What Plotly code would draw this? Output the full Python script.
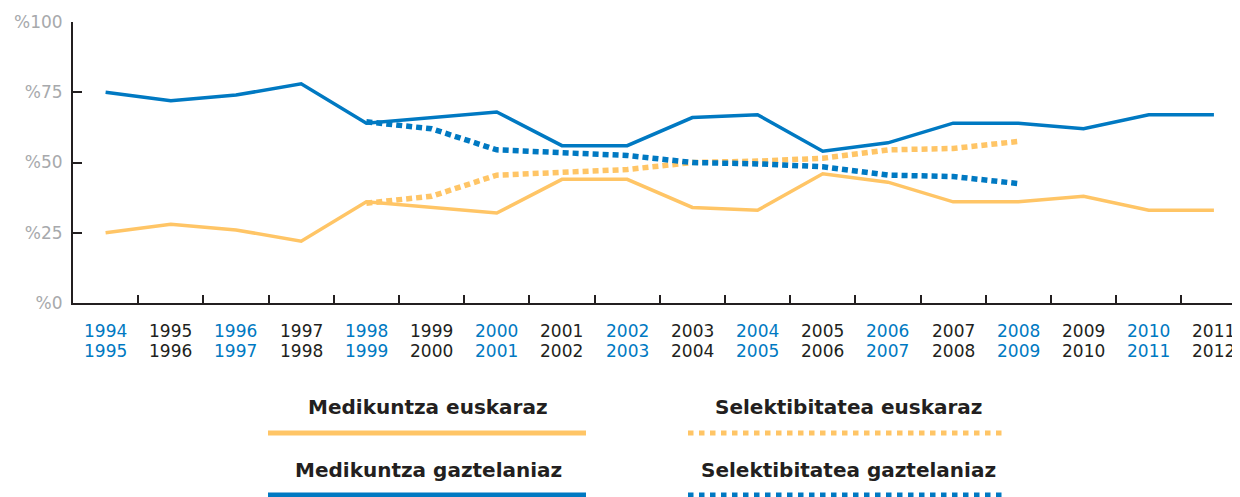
import plotly.graph_objects as go

# ---------------- data ----------------
years_top = ["1994", "1995", "1996", "1997", "1998", "1999", "2000", "2001", "2002",
             "2003", "2004", "2005", "2006", "2007", "2008", "2009", "2010", "2011"]
years_bottom = ["1995", "1996", "1997", "1998", "1999", "2000", "2001", "2002", "2003",
                "2004", "2005", "2006", "2007", "2008", "2009", "2010", "2011", "2012"]

medikuntza_euskaraz = [25, 28, 26, 22, 36, 34, 32, 44, 44, 34, 33, 46, 43, 36, 36, 38, 33, 33]
medikuntza_gaztelaniaz = [75, 72, 74, 78, 64, 66, 68, 56, 56, 66, 67, 54, 57, 64, 64, 62, 67, 67]

# Selektibitatea covers 1998-1999 .. 2008-2009 (category index 4..14)
selek_start = 4
selektibitatea_euskaraz = [35.5, 38, 45.5, 46.5, 47.5, 50, 50.5, 51.5, 54.5, 55, 57.5]
selektibitatea_gaztelaniaz = [64.5, 62, 54.5, 53.5, 52.5, 50, 49.5, 48.5, 45.5, 45, 42.5]

y_tickvals = [0, 25, 50, 75, 100]
y_ticktext = ["%0", "%25", "%50", "%75", "%100"]

legend_names = ["Medikuntza euskaraz", "Selektibitatea euskaraz",
                "Medikuntza gaztelaniaz", "Selektibitatea gaztelaniaz"]

# ---------------- style ----------------
BLUE = "#0079c2"
ORANGE = "#ffc566"
DARK = "#231f20"
GRAY = "#a7a9ac"
FONT = "DejaVu Sans"

OFF = 8  # default page body margin
W, H = 1240 - OFF, 497 - OFF
L, T, B, R = 73 - OFF, 22 - OFF, 194, 0
PW, PH = W - L - R, H - T - B


def px_x(px):  # screen pixel -> paper
    return (px - OFF - L) / PW


def px_y(py):
    return (H - B - (py - OFF)) / PH


n = len(years_top)
x_all = list(range(n))
x_sel = list(range(selek_start, selek_start + len(selektibitatea_euskaraz)))

fig = go.Figure()
fig.add_trace(go.Scatter(x=x_all, y=medikuntza_euskaraz, mode="lines",
                         name=legend_names[0],
                         line=dict(color=ORANGE, width=3.5)))
fig.add_trace(go.Scatter(x=x_all, y=medikuntza_gaztelaniaz, mode="lines",
                         name=legend_names[2],
                         line=dict(color=BLUE, width=3.5)))
fig.add_trace(go.Scatter(x=x_sel, y=selektibitatea_euskaraz, mode="lines",
                         name=legend_names[1],
                         line=dict(color=ORANGE, width=5.5, dash="6px,4px")))
fig.add_trace(go.Scatter(x=x_sel, y=selektibitatea_gaztelaniaz, mode="lines",
                         name=legend_names[3],
                         line=dict(color=BLUE, width=5.5, dash="6px,4px")))

annotations = []
# two-line category labels, alternating colours
for i in range(n):
    col = BLUE if i % 2 == 0 else DARK
    for txt, ypx in ((years_top[i], 331), (years_bottom[i], 350.5)):
        annotations.append(dict(x=i, y=px_y(ypx), xref="x", yref="paper",
                                text=txt, showarrow=False,
                                xanchor="center", yanchor="middle",
                                font=dict(family=FONT, size=17, color=col)))

# custom legend (title above a line sample)
legend_spec = [
    (legend_names[0], 428, 407, 433, ORANGE, "solid"),
    (legend_names[1], 848, 407, 433, ORANGE, "5.5px,5.5px"),
    (legend_names[2], 428, 470, 495, BLUE, "solid"),
    (legend_names[3], 848, 470, 495, BLUE, "5.5px,5.5px"),
]
shapes = []
for name, cx, ty, ly, col, dash in legend_spec:
    annotations.append(dict(x=px_x(cx), y=px_y(ty), xref="paper", yref="paper",
                            text="<b>" + name + "</b>", showarrow=False,
                            xanchor="center", yanchor="middle",
                            font=dict(family=FONT, size=20, color=DARK)))
    shapes.append(dict(type="line", xref="paper", yref="paper",
                       x0=px_x(cx - 160), x1=px_x(cx + 158),
                       y0=px_y(ly), y1=px_y(ly),
                       line=dict(color=col, width=5, dash=dash)))

fig.update_layout(
    width=W, height=H,
    margin=dict(l=L, r=R, t=T, b=B, pad=0),
    paper_bgcolor="white", plot_bgcolor="white",
    showlegend=False,
    annotations=annotations,
    shapes=shapes,
    font=dict(family=FONT, size=17, color=DARK),
)
fig.update_xaxes(
    range=[-0.5, n - 0.6],
    showgrid=False, zeroline=False,
    showline=True, linecolor=DARK, linewidth=2,
    tickmode="array", tickvals=[i + 0.5 for i in range(n - 1)],
    ticktext=[""] * (n - 1),
    ticks="inside", ticklen=8, tickwidth=2, tickcolor=DARK,
)
fig.update_yaxes(
    range=[0, 100],
    showgrid=False, zeroline=False,
    showline=True, linecolor=DARK, linewidth=2,
    tickmode="array", tickvals=y_tickvals, ticktext=y_ticktext,
    ticks="inside", ticklen=9, tickwidth=2, tickcolor=DARK,
    tickfont=dict(family=FONT, size=17, color=GRAY),
    ticklabelstandoff=5,
)

fig.write_html("out.html")
